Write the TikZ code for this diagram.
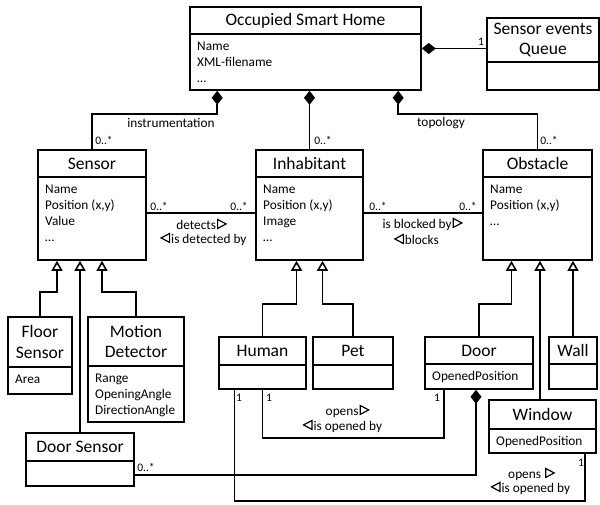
\documentclass[tikz,border=0pt]{standalone}
\usepackage{fontspec}
\setmainfont{Carlito}
\usetikzlibrary{arrows.meta,calc}
\newcommand\rtri{\kern1pt\tikz[baseline=0pt,x=1pt,y=1pt]\draw[line width=1.2pt,line join=miter] (0,0.6)--(0,9.6)--(8.5,5.1)--cycle;\kern1pt}
\newcommand\ltri{\kern1pt\tikz[baseline=0pt,x=1pt,y=1pt]\draw[line width=1.2pt,line join=miter] (8.5,0.6)--(8.5,9.6)--(0,5.1)--cycle;\kern1pt}
\tikzset{
 cls/.style={draw, line width=1.6pt, inner sep=0pt, fill=white},
 divl/.style={line width=1.6pt},
 ttl/.style={font=\fontsize{17.5}{20.5}\selectfont, align=center, inner sep=0pt},
 att/.style={font=\fontsize{13.3}{16}\selectfont, inner sep=0pt, anchor=base west},
 lbl/.style={font=\fontsize{13.3}{15}\selectfont, inner sep=0pt},
 mult/.style={font=\fontsize{11.5}{13}\selectfont, inner sep=0pt},
 conn/.style={line width=1.6pt},
 gen/.style={conn, -{Triangle[open,length=10pt,width=11pt]}},
 comp/.style={conn, {Diamond[length=14pt,width=11pt]}-},
}
\newcommand\umlclass[7]{%
 \node[cls, minimum width={(#4)-(#2)}, minimum height={(#5)-(#3)}] (#1) at ({((#2)+(#4))/2},{((#3)+(#5))/2}) {};
 \draw[divl] (#2,#6) -- (#4,#6);
 \node[ttl] (#1-title) at ({((#2)+(#4))/2},{((#3)+(#6))/2}) {#7};
}
\newcommand\umlattrs[4]{%
 \foreach \t [count=\i] in {#4} {\node[att] (#1-attr\i) at ({#2+7},{#3+16+(\i-1)*16}) {\t};}
}
\begin{document}
\begin{tikzpicture}[x=1pt,y=-1pt]
\useasboundingbox (0,0) rectangle (600,504);
% classes
\umlclass{osh}{190}{7}{421}{90}{34}{Occupied Smart Home}
\umlattrs{osh}{190}{34}{Name,XML-filename,…}
\umlclass{queue}{487}{18}{599}{90}{62}{Sensor events\\Queue}
\umlclass{sensor}{38}{150}{146}{260}{177}{Sensor}
\umlattrs{sensor}{38}{177}{Name,{Position (x,y)},Value,…}
\umlclass{inhab}{256}{150}{363}{260}{177}{Inhabitant}
\umlattrs{inhab}{256}{177}{Name,{Position (x,y)},Image,…}
\umlclass{obst}{483}{150}{592}{260}{177}{Obstacle}
\umlattrs{obst}{483}{177}{Name,{Position (x,y)},…}
\umlclass{floor}{8}{317}{72}{394}{367}{Floor\\Sensor}
\umlattrs{floor}{8}{367}{Area}
\umlclass{motion}{88}{317}{184}{422}{366}{Motion\\Detector}
\umlattrs{motion}{88}{366}{Range,OpeningAngle,DirectionAngle}
\umlclass{dsens}{26}{433}{134}{486}{461}{Door Sensor}
\umlclass{human}{219}{337}{306}{389}{365}{Human}
\umlclass{pet}{313}{337}{393}{389}{365}{Pet}
\umlclass{door}{425}{337}{533}{389}{364}{Door}
\umlattrs{door}{425}{364}{OpenedPosition}
\umlclass{wall}{549}{337}{597}{389}{364}{Wall}
\umlclass{window}{489}{400}{596}{453}{429}{Window}
\umlattrs{window}{489}{429}{OpenedPosition}
% compositions from the home
\draw[comp] (osh.east) -- (osh.east -| queue.west);
\draw[comp] ($(osh.south west)+(28,0)$) -- ++(0,23) -| (sensor.north);
\draw[comp] (osh.south -| inhab.north) -- (inhab.north);
\draw[comp] ($(osh.south west)+(209,0)$) -- ++(0,23) -| (obst.north);
% associations
\draw[conn] ($(sensor.east)+(0,8)$) -- ($(inhab.west)+(0,8)$);
\draw[conn] ($(inhab.east)+(0,8)$) -- ($(obst.west)+(0,8)$);
% generalizations
\draw[gen] (floor.north) -- ++(0,-24) -| ($(sensor.south)+(-35,0)$);
\draw[gen] (dsens.north) -- (dsens.north |- sensor.south);
\draw[gen] (motion.north) -- ++(0,-24) -| ($(sensor.south)+(10,0)$);
\draw[gen] (human.north) -- ++(0,-32) -| ($(inhab.south)+(-13,0)$);
\draw[gen] (pet.north) -- ++(0,-32) -| ($(inhab.south)+(13,0)$);
\draw[gen] (door.north) -- ++(0,-32) -| ($(obst.south)+(-26,0)$);
\draw[gen] ($(window.north)+(-2.5,0)$) -- ($(obst.south)+(2.5,0)$);
\draw[gen] (wall.north) -- (wall.north |- obst.south);
% opens
\draw[conn] (human.south) -- ++(0,48) -| ($(door.south)+(-35,0)$);
\draw[conn] ($(human.south)+(-28,0)$) -- ++(0,111) -| ($(window.south)+(42.5,0)$);
\draw[comp] ($(door.south)+(-3,0)$) |- ($(dsens.east)+(0,15.5)$);
% labels
\node[mult] (mq) at (481,42) {1};
\node[lbl] (linstr) at (171,123) {instrumentation};
\node[lbl] (ltopo) at (441,123) {topology};
\node[mult] (ms) at (104,140) {0..*};
\node[mult] (mi) at (323,140) {0..*};
\node[mult] (mo) at (549,140) {0..*};
\node[mult] (msi1) at (159,206) {0..*};
\node[mult] (msi2) at (239,206) {0..*};
\node[lbl] (ldet) at (202,224) {detects\rtri};
\node[lbl] (ldet2) at (203,239) {\ltri is detected by};
\node[mult] (mio1) at (378,206) {0..*};
\node[mult] (mio2) at (468,206) {0..*};
\node[lbl] (lblk) at (423,224) {is blocked by\rtri};
\node[lbl] (lblk2) at (416,239) {\ltri blocks};
\node[mult] (mh1) at (239,398) {1};
\node[mult] (mh2) at (269,398) {1};
\node[mult] (md1) at (437,398) {1};
\node[mult] (mw1) at (581,463) {1};
\node[lbl] (lop) at (348,411) {opens\rtri};
\node[lbl] (lop2) at (342,426) {\ltri is opened by};
\node[lbl] (lwop) at (532,474) {opens \rtri};
\node[lbl] (lwop2) at (530,488) {\ltri is opened by};
\node[mult] (mds) at (146,467) {0..*};
\end{tikzpicture}
\end{document}
